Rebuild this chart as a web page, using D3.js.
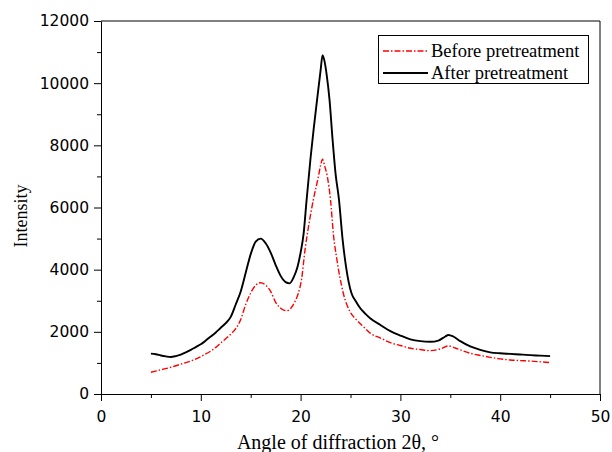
<!DOCTYPE html>
<html>
<head>
<meta charset="utf-8">
<script src="https://cdn.jsdelivr.net/npm/d3@7/dist/d3.min.js"></script>
<style>
body{margin:0;background:#fff;}
svg{display:block;}
</style>
</head>
<body>
<svg id="chart" width="612" height="452"></svg>
<script>
// ---- data ----
const afterAngle = [5.0,5.5,6.0,6.5,7.0,7.5,8.0,8.5,9.0,9.5,10.0,10.5,11.0,11.5,12.0,12.5,13.0,13.5,14.0,14.5,15.0,15.5,16.0,16.5,17.0,17.5,18.0,18.5,18.9,19.3,19.7,20.0,20.3,20.6,21.0,21.3,21.65,22.0,22.2,22.4,22.6,22.9,23.2,23.5,23.85,24.2,24.55,25.1,25.5,26.0,26.5,27.0,28.0,29.0,30.0,31.0,32.0,33.0,33.8,34.5,34.8,35.3,36.0,37.0,38.0,39.0,40.0,41.0,42.0,43.0,44.0,45.0];
const afterIntensity = [1300,1280,1240,1210,1190,1220,1270,1340,1420,1510,1600,1720,1850,1980,2130,2280,2480,2880,3300,3900,4500,4900,5000,4850,4550,4150,3800,3600,3560,3750,4100,4550,5150,6240,7600,8500,9460,10400,10900,10700,10300,9460,8200,7100,6240,5000,4100,3240,3000,2750,2580,2430,2220,2020,1880,1760,1700,1680,1720,1850,1900,1850,1700,1530,1420,1340,1310,1290,1270,1250,1235,1220];

const beforeAngle = [5.0,6.0,7.0,8.0,9.0,10.0,10.5,11.0,11.5,12.0,12.5,13.0,13.5,14.0,14.5,15.0,15.5,16.0,16.5,17.0,17.5,18.0,18.6,19.0,19.4,19.77,20.1,20.44,20.8,21.27,21.78,22.0,22.2,22.4,22.68,23.0,23.3,23.6,24.28,24.95,25.5,26.3,27.0,28.0,29.0,30.0,31.0,32.0,33.0,34.0,34.8,35.5,36.0,37.0,38.0,39.0,40.0,41.0,42.0,43.0,44.0,45.0];
const beforeIntensity = [700,780,860,960,1060,1200,1290,1380,1500,1640,1780,1920,2100,2400,2880,3250,3500,3580,3500,3300,2950,2760,2680,2750,2950,3240,3700,4630,5400,6240,6990,7350,7550,7350,6990,6240,5100,4400,3240,2650,2420,2165,1950,1800,1650,1560,1470,1430,1395,1450,1545,1480,1420,1310,1240,1180,1130,1095,1075,1060,1035,1010];

const xTicks = [0,10,20,30,40,50];
const yTicks = [0,2000,4000,6000,8000,10000,12000];
const seriesNames = ["Before pretreatment","After pretreatment"];
const xTitle = "Angle of diffraction 2θ, °";
const yTitle = "Intensity";

// ---- layout ----
const svg = d3.select("#chart");
const L = 101, R = 600, T = 21, B = 394;
const x = d3.scaleLinear().domain([0,50]).range([L,R]);
const y = d3.scaleLinear().domain([0,12000]).range([B,T]);

const tickFont = "'DejaVu Sans', sans-serif";
const serif = "'Liberation Serif','Times New Roman', serif";

// frame (top and right)
svg.append("line").attr("x1",L).attr("x2",R).attr("y1",T).attr("y2",T).attr("stroke","#000").attr("stroke-width",1);
svg.append("line").attr("x1",R).attr("x2",R).attr("y1",T).attr("y2",B).attr("stroke","#000").attr("stroke-width",1);

// minor ticks
const xMinor = d3.range(5,50,10);
const yMinor = d3.range(1000,12000,2000);
const gxm = svg.append("g").attr("transform",`translate(0,${B})`)
  .call(d3.axisBottom(x).tickValues(xMinor).tickSize(4).tickFormat(""));
gxm.select(".domain").remove();
const gym = svg.append("g").attr("transform",`translate(${L},0)`)
  .call(d3.axisLeft(y).tickValues(yMinor).tickSize(4).tickFormat(""));
gym.select(".domain").remove();

// major axes
const gx = svg.append("g").attr("transform",`translate(0,${B})`)
  .call(d3.axisBottom(x).tickValues(xTicks).tickSize(7).tickSizeOuter(0).tickPadding(10).tickFormat(d3.format("d")));
gx.selectAll("text").attr("font-family",tickFont).attr("font-size",15.5).attr("fill","#000");
const gy = svg.append("g").attr("transform",`translate(${L},0)`)
  .call(d3.axisLeft(y).tickValues(yTicks).tickSize(7).tickSizeOuter(0).tickPadding(5).tickFormat(d3.format("d")));
gy.selectAll("text").attr("font-family",tickFont).attr("font-size",15.5).attr("fill","#000");
svg.selectAll(".domain, .tick line").attr("stroke","#000");

// lines
const line = d3.line().x(d=>x(d[0])).y(d=>y(d[1])).curve(d3.curveMonotoneX);
const beforeData = beforeAngle.map((a,i)=>[a,beforeIntensity[i]]);
const afterData = afterAngle.map((a,i)=>[a,afterIntensity[i]]);

svg.append("path").datum(beforeData).attr("d",line)
  .attr("fill","none").attr("stroke","#ff0000").attr("stroke-width",1.4)
  .attr("stroke-dasharray","6,2,1.5,2");
svg.append("path").datum(afterData).attr("d",line)
  .attr("fill","none").attr("stroke","#000").attr("stroke-width",1.9);

// legend
const lg = svg.append("g");
lg.append("rect").attr("x",378.5).attr("y",35.5).attr("width",210).attr("height",48)
  .attr("fill","#fff").attr("stroke","#000").attr("stroke-width",1);
lg.append("line").attr("x1",383).attr("x2",428).attr("y1",51).attr("y2",51)
  .attr("stroke","#ff0000").attr("stroke-width",1.4).attr("stroke-dasharray","6,2,1.5,2");
lg.append("line").attr("x1",383).attr("x2",428).attr("y1",73).attr("y2",73)
  .attr("stroke","#000").attr("stroke-width",1.8);
lg.selectAll("text.lt").data(seriesNames).enter().append("text")
  .attr("x",431).attr("y",(d,i)=>51+i*22).attr("dy","0.35em")
  .attr("font-family",serif).attr("font-size",18.5).attr("fill","#000").text(d=>d);

// titles
svg.append("text").attr("x",338).attr("y",449).attr("text-anchor","middle")
  .attr("font-family",serif).attr("font-size",20).attr("fill","#000").text(xTitle);
svg.append("text").attr("transform",`translate(27,${216}) rotate(-90)`).attr("text-anchor","middle")
  .attr("font-family",serif).attr("font-size",18).attr("fill","#000").text(yTitle);
</script>
</body>
</html>
